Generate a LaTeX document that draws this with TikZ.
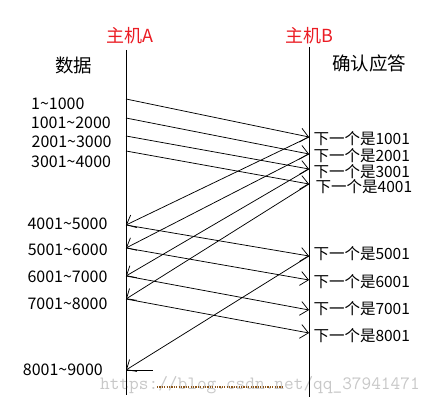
\documentclass[tikz,border=0pt]{standalone}
\usepackage{fontspec}
\setmainfont{Noto Sans CJK SC}
\usetikzlibrary{arrows.meta}
\definecolor{hostred}{RGB}{235,28,36}
\definecolor{wmgray}{RGB}{200,200,200}
\definecolor{dotbrown}{RGB}{140,85,25}
\begin{document}
\begin{tikzpicture}[x=1pt,y=-1pt,
  lifeline/.style={line width=1pt},
  msg/.style={line width=0.75pt,-{Straight Barb[length=8pt,width=14pt,line width=0.75pt]}},
  host/.style={text=hostred,font=\fontsize{18}{20}\selectfont,inner sep=0pt},
  head/.style={font=\fontsize{18.5}{20}\selectfont,inner sep=0pt},
  datalbl/.style={anchor=west,font=\fontsize{16}{18}\selectfont,inner sep=0pt},
  acklbl/.style={anchor=west,font=\fontsize{15.5}{18}\selectfont,inner sep=0pt},
  wmark/.style={anchor=base west,text=wmgray,font=\ttfamily\fontsize{18.8}{20}\selectfont,inner sep=0pt}]
\useasboundingbox (0,0) rectangle (439,406);
\fill[white] (0,0) rectangle (439,406);

% watermark
\node[wmark] (wm) at (100,389) {https://blog.csdn.net/qq\_37941471};
\coordinate (dotS) at (157,387);
\coordinate (dotE) at (284,387);
\draw[dotbrown,dash pattern=on 1.2pt off 1.2pt,line width=1.3pt] (dotS) -- (dotE);

% lifelines
\coordinate (Atop) at (126,50);
\coordinate (Abot) at (126,395);
\coordinate (Btop) at (309,47);
\coordinate (Bbot) at (309,397);
\draw[lifeline] (Atop) -- (Abot);
\draw[lifeline] (Btop) -- (Bbot);

% headings
\node[host] (hA) at (129.5,36) {主机A};
\node[host] (hB) at (309.5,36) {主机B};
\node[head] (hdata) at (73.8,65) {数据};
\node[head] (hack) at (369,63.3) {确认应答};

% data labels
\node[datalbl] (l1) at (31,103.3) {1\char`\~1000};
\node[datalbl] (l2) at (30.7,122.5) {1001\char`\~2000};
\node[datalbl] (l3) at (31.5,142.2) {2001\char`\~3000};
\node[datalbl] (l4) at (31,162) {3001\char`\~4000};
\node[datalbl] (l5) at (27.3,223.3) {4001\char`\~5000};
\node[datalbl] (l6) at (27.6,250) {5001\char`\~6000};
\node[datalbl] (l7) at (27.3,277) {6001\char`\~7000};
\node[datalbl] (l8) at (27.3,303.8) {7001\char`\~8000};
\node[datalbl] (l9) at (22.7,369.8) {8001\char`\~9000};

% ack labels
\node[acklbl] (k1) at (313.3,138.7) {下一个是1001};
\node[acklbl] (k2) at (313.3,156) {下一个是2001};
\node[acklbl] (k3) at (313.3,171.5) {下一个是3001};
\node[acklbl] (k4) at (315.5,186.7) {下一个是4001};
\node[acklbl] (k5) at (313.3,254) {下一个是5001};
\node[acklbl] (k6) at (313.3,281.7) {下一个是6001};
\node[acklbl] (k7) at (313.3,309) {下一个是7001};
\node[acklbl] (k8) at (313.3,335.8) {下一个是8001};

% points on A
\coordinate (a1) at (126,99);
\coordinate (a2) at (126,118);
\coordinate (a3) at (126,136);
\coordinate (a4) at (126,151);
\coordinate (a5) at (126,225);
\coordinate (a6) at (126,248);
\coordinate (a7) at (126,276);
\coordinate (a8) at (126,299);
\coordinate (a9) at (126,370);
\coordinate (a9r) at (153,370);
% points on B
\coordinate (b1) at (309,137);
\coordinate (b2) at (309,154);
\coordinate (b3) at (309,169);
\coordinate (b4) at (309,184);
\coordinate (b5) at (309,256);
\coordinate (b6) at (309,280);
\coordinate (b7) at (309,310);
\coordinate (b8) at (309,333);

% data segments A -> B
\draw[msg] (a1) -- (b1);
\draw[msg] (a2) -- (b2);
\draw[msg] (a3) -- (b3);
\draw[msg] (a4) -- (b4);
% acks B -> A
\draw[msg] (b1) -- (a5);
\draw[msg] (b2) -- (a6);
\draw[msg] (b3) -- (a7);
\draw[msg] (b4) -- (a8);
% data segments A -> B
\draw[msg] (a5) -- (b5);
\draw[msg] (a6) -- (b6);
\draw[msg] (a7) -- (b7);
\draw[msg] (a8) -- (b8);
% ack B -> A
\draw[msg] (b5) -- (a9);
\draw[line width=0.75pt] (a9) -- (a9r);
\end{tikzpicture}
\end{document}
